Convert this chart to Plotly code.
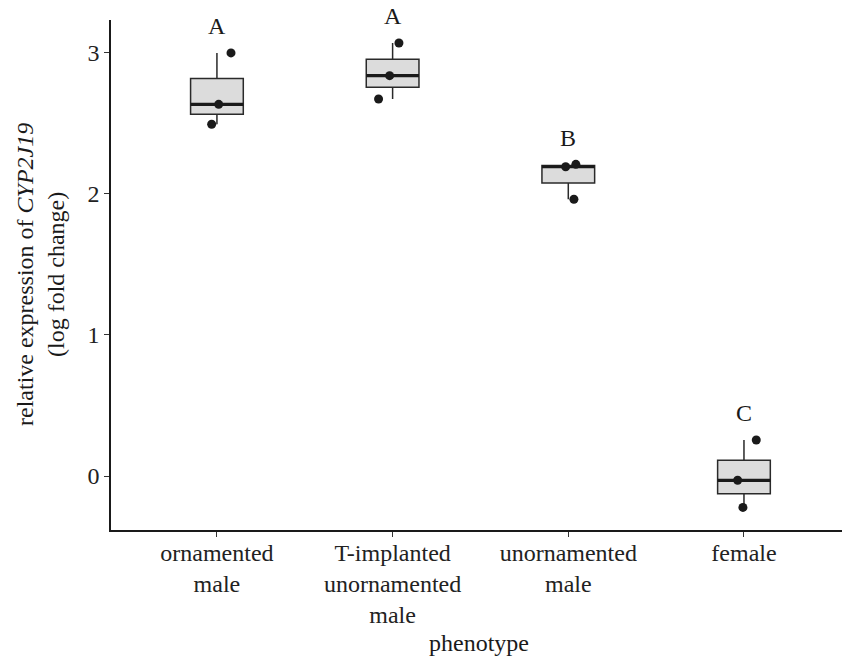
import numpy as np
import plotly.graph_objects as go

# ---- data ----
categories = ["ornamented<br>male", "T-implanted<br>unornamented<br>male",
              "unornamented<br>male", "female"]
values = [
    [2.996, 2.632, 2.491],
    [3.066, 2.835, 2.670],
    [2.190, 2.207, 1.960],
    [0.255, -0.030, -0.222],
]
jitter = [
    [0.08, 0.01, -0.03],
    [0.036, -0.017, -0.08],
    [-0.015, 0.043, 0.032],
    [0.07, -0.036, -0.006],
]
letters = ["A", "A", "B", "C"]
y_ticks = [0, 1, 2, 3]

FONT = "Liberation Serif"
INK = "#1a1a1a"
BOX_W = 0.3
Y_RANGE = [-0.382, 3.229]

fig = go.Figure()
for i, vals in enumerate(values, start=1):
    fig.add_trace(go.Box(
        x=[i] * len(vals), y=vals, width=BOX_W,
        quartilemethod="inclusive", boxpoints=False,
        fillcolor="#dcdcdc", line=dict(color="#2a2a2a", width=1.5),
        whiskerwidth=0, showlegend=False, hoverinfo="skip",
    ))
    med = float(np.median(vals))
    fig.add_trace(go.Scatter(
        x=[i - BOX_W / 2, i + BOX_W / 2], y=[med, med], mode="lines",
        line=dict(color="#1a1a1a", width=3.2), showlegend=False, hoverinfo="skip",
    ))
    fig.add_trace(go.Scatter(
        x=[i + d for d in jitter[i - 1]], y=vals, mode="markers",
        marker=dict(color=INK, size=9), showlegend=False, cliponaxis=False,
    ))
    ly = max(vals) + 0.19
    fig.add_annotation(x=i, y=(ly - Y_RANGE[0]) / (Y_RANGE[1] - Y_RANGE[0]),
                       text=letters[i - 1], showarrow=False,
                       xref="x", yref="paper", yanchor="middle",
                       font=dict(family=FONT, size=24, color=INK))

fig.add_annotation(
    text="relative expression of <i>CYP2J19</i><br>(log fold change)",
    xref="paper", yref="paper", x=(40 - 111) / 731, y=0.5,
    xanchor="center", yanchor="middle", textangle=-90, showarrow=False,
    font=dict(family=FONT, size=24, color=INK),
)
fig.add_annotation(
    text="phenotype", xref="paper", yref="paper",
    x=(479 - 111) / 731, y=(530 - 643) / 510,
    xanchor="center", yanchor="middle", showarrow=False,
    font=dict(family=FONT, size=24, color=INK),
)

fig.update_layout(
    width=842, height=660,
    margin=dict(l=111, r=0, t=20, b=130),
    plot_bgcolor="white", paper_bgcolor="white",
    font=dict(family=FONT, size=24, color=INK),
    xaxis=dict(
        range=[0.397, 4.558], tickvals=[1, 2, 3, 4], ticktext=categories,
        showline=True, linecolor="#1a1a1a", linewidth=1.5,
        ticks="outside", ticklen=5, tickcolor="#333", tickwidth=1.2,
        showgrid=False, zeroline=False, automargin=False,
        ticklabelstandoff=-5,
        tickfont=dict(family=FONT, size=24, color="#222"),
    ),
    yaxis=dict(
        range=Y_RANGE, tickvals=y_ticks,
        showline=True, linecolor="#1a1a1a", linewidth=1.5,
        ticks="outside", ticklen=5, tickcolor="#333", tickwidth=1.2,
        showgrid=False, zeroline=False, automargin=False,
        tickfont=dict(family=FONT, size=24, color="#222"),
    ),
)

fig.write_html("out.html", config={"displayModeBar": False},
               post_script="document.body.style.margin='0';")
